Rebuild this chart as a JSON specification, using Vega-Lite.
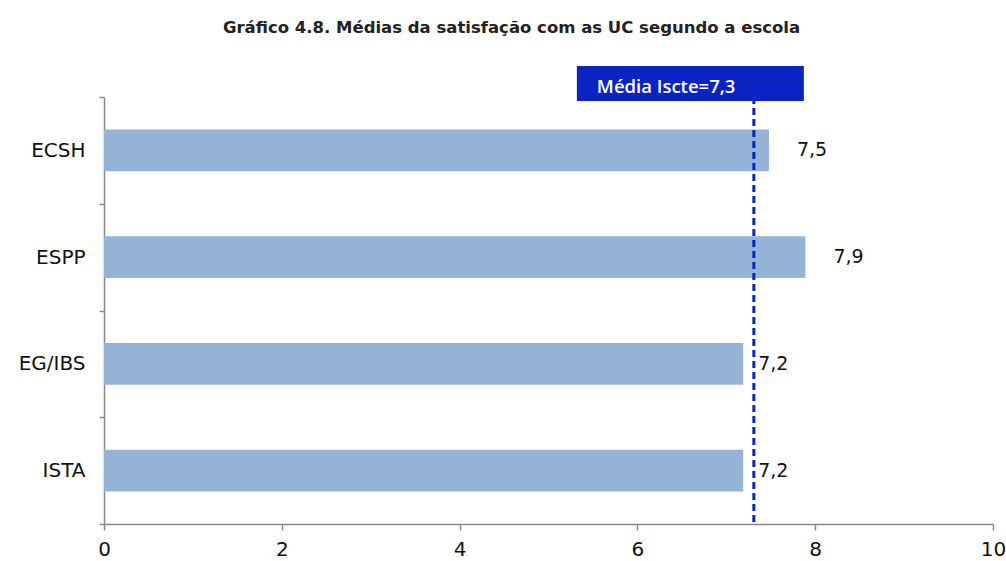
{
  "$schema": "https://vega.github.io/schema/vega-lite/v6.json",
  "autosize": "none",
  "width": 889,
  "height": 427,
  "padding": {"left": 104, "top": 97, "right": 13, "bottom": 37},
  "background": "white",
  "title": {
    "text": "Gráfico 4.8. Médias da satisfação com as UC segundo a escola",
    "font": "DejaVu Sans",
    "fontSize": 16.5,
    "fontWeight": "bold",
    "color": "#222222",
    "anchor": "middle",
    "frame": "group",
    "dx": -37,
    "offset": 30
  },
  "config": {
    "view": {"stroke": null},
    "locale": {"number": {"decimal": ",", "thousands": ".", "grouping": [3], "currency": ["", " €"]}},
    "font": "DejaVu Sans",
    "axis": {
      "labelFont": "DejaVu Sans", "labelFontSize": 20, "labelColor": "#111111",
      "domainColor": "#888888", "domainWidth": 1.5, "tickColor": "#888888", "tickWidth": 1.5,
      "grid": false, "title": null
    },
    "axisY": {"labelPadding": 14, "tickSize": 5, "tickBand": "extent"},
    "axisX": {"labelPadding": 9, "tickSize": 6, "labelFlush": false}
  },
  "datasets": {
    "schools": [
      {"escola": "ECSH", "media": 7.48},
      {"escola": "ESPP", "media": 7.89},
      {"escola": "EG/IBS", "media": 7.19},
      {"escola": "ISTA", "media": 7.19}
    ],
    "overall": [{"label": "Média Iscte=7,3", "media": 7.31}]
  },
  "layer": [
    {
      "data": {"name": "schools"},
      "mark": {"type": "bar", "color": "#95b3d7", "height": {"band": 0.393}},
      "encoding": {
        "y": {
          "field": "escola", "type": "nominal", "sort": null,
          "scale": {"paddingInner": 0, "paddingOuter": 0},
          "axis": {"title": null}
        },
        "x": {
          "field": "media", "type": "quantitative",
          "scale": {"domain": [0, 10]},
          "axis": {"title": null, "values": [0, 2, 4, 6, 8, 10], "format": "d", "labelFlush": false}
        }
      }
    },
    {
      "data": {"name": "schools"},
      "transform": [{"filter": "datum.media > 7.31"}],
      "mark": {"type": "text", "align": "left", "baseline": "middle", "dx": 28, "fontSize": 19, "color": "#111111"},
      "encoding": {
        "y": {"field": "escola", "type": "nominal", "sort": null},
        "x": {"field": "media", "type": "quantitative"},
        "text": {"field": "media", "type": "quantitative", "format": ".1f"}
      }
    },
    {
      "data": {"name": "schools"},
      "transform": [{"filter": "datum.media < 7.31"}],
      "mark": {"type": "text", "align": "left", "baseline": "middle", "dx": 15, "fontSize": 19, "color": "#111111"},
      "encoding": {
        "y": {"field": "escola", "type": "nominal", "sort": null},
        "x": {"field": "media", "type": "quantitative"},
        "text": {"field": "media", "type": "quantitative", "format": ".1f"}
      }
    },
    {
      "data": {"name": "overall"},
      "mark": {"type": "rect", "color": "#0a24c4", "xOffset": -177, "x2Offset": 50, "clip": false},
      "encoding": {
        "x": {"field": "media", "type": "quantitative"},
        "x2": {"field": "media"},
        "y": {"value": -31},
        "y2": {"value": 4}
      }
    },
    {
      "data": {"name": "overall"},
      "mark": {"type": "rule", "color": "#0a24c4", "strokeWidth": 3, "strokeDash": [7, 4]},
      "encoding": {
        "x": {"field": "media", "type": "quantitative"}
      }
    },
    {
      "data": {"name": "overall"},
      "mark": {"type": "text", "align": "left", "baseline": "middle", "dx": -157, "fontSize": 18.5, "font": "Open Sans", "fontWeight": 600, "color": "white"},
      "encoding": {
        "x": {"field": "media", "type": "quantitative"},
        "y": {"value": -10},
        "text": {"field": "label"}
      }
    }
  ]
}
